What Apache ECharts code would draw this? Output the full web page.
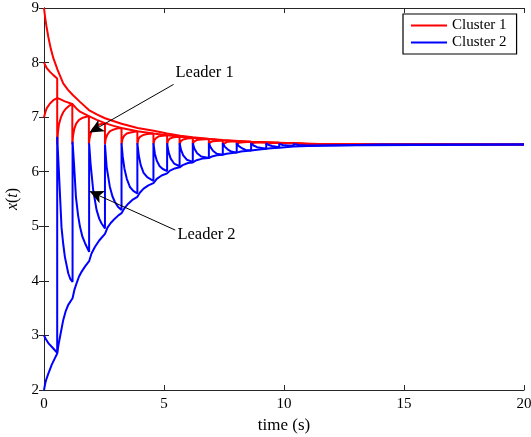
<!DOCTYPE html>
<html>
<head>
<meta charset="utf-8">
<script src="https://cdn.jsdelivr.net/npm/echarts@6/dist/echarts.min.js"></script>
<style>
html,body{margin:0;padding:0;background:#fff;}
#chart{width:531px;height:437px;}
</style>
</head>
<body>
<div id="chart"></div>
<script>
// ---- data ----
var xTicks = [0, 5, 10, 15, 20];
var yTicks = [2, 3, 4, 5, 6, 7, 8, 9];

// Cluster 1 (red)
var red1 = [[0,9.0],[0.05,8.82],[0.1,8.67],[0.18,8.47],[0.28,8.26],[0.39,8.08],[0.57,7.86],[0.8,7.62],[1.0,7.5],[1.19,7.41],[1.5,7.28],[1.87,7.13],[2.2,7.05],[2.54,6.98],[3.23,6.88],[3.9,6.80],[4.57,6.75],[5.13,6.70],[5.68,6.66],[6.2,6.63],[6.9,6.60],[7.46,6.58],[8.6,6.55],[9.8,6.53],[11.5,6.51],[14,6.5],[20,6.5]];
var red2 = [[0,7.0],[0.05,7.08],[0.11,7.16],[0.25,7.25],[0.39,7.31],[0.55,7.35],[0.67,7.33],[0.87,7.29],[1.18,7.24],[1.35,7.16],[1.5,7.1],[1.87,7.02],[2.2,6.95],[2.54,6.89],[2.9,6.84],[3.23,6.80],[3.89,6.74],[4.56,6.70],[5.13,6.67],[5.65,6.64],[6.2,6.62],[6.87,6.6],[7.45,6.57],[8.03,6.56],[8.63,6.55],[9.26,6.54],[9.8,6.53],[10.4,6.52],[11,6.51],[12.5,6.5],[20,6.5]];
var redLeader = [[0,8.0],[0.11,7.9],[0.25,7.83],[0.39,7.77],[0.55,7.71],
[0.55,6.5],[0.58,6.72],[0.62,6.86],[0.7,6.99],[0.8,7.09],[0.92,7.16],[1.05,7.21],[1.18,7.24],
[1.18,6.5],[1.21,6.66],[1.26,6.78],[1.34,6.88],[1.46,6.95],[1.62,6.99],[1.87,7.02],
[1.87,6.5],[1.9,6.62],[1.96,6.72],[2.05,6.79],[2.18,6.84],[2.34,6.87],[2.54,6.89],
[2.54,6.5],[2.57,6.6],[2.64,6.68],[2.74,6.74],[2.88,6.77],[3.03,6.79],[3.23,6.80],
[3.23,6.5],[3.27,6.6],[3.34,6.66],[3.45,6.7],[3.6,6.72],[3.89,6.74],
[3.89,6.5],[3.93,6.59],[4.0,6.64],[4.12,6.67],[4.3,6.69],[4.56,6.70],
[4.56,6.5],[4.6,6.58],[4.68,6.62],[4.8,6.65],[4.95,6.66],[5.13,6.67],
[5.13,6.5],[5.17,6.57],[5.25,6.61],[5.4,6.63],[5.65,6.64],
[5.65,6.5],[5.7,6.56],[5.8,6.59],[5.97,6.61],[6.2,6.62],
[6.2,6.5],[6.25,6.55],[6.36,6.58],[6.55,6.59],[6.87,6.6],
[6.87,6.5],[6.93,6.54],[7.05,6.56],[7.45,6.57],
[7.45,6.5],[7.52,6.53],[7.65,6.55],[8.03,6.56],
[8.03,6.5],[8.12,6.53],[8.3,6.54],[8.63,6.55],
[8.63,6.5],[8.75,6.53],[9.26,6.54],
[9.26,6.5],[9.4,6.52],[9.8,6.53],
[9.8,6.5],[10.4,6.52],[10.4,6.5],[11,6.51],[11,6.5],[20,6.5]];

// Cluster 2 (blue)
var blueLeader = [[0,3.0],[0.08,2.93],[0.18,2.86],[0.39,2.76],[0.55,2.68],
[0.55,6.64],[0.61,6.1],[0.67,5.54],[0.73,4.98],[0.8,4.68],[0.87,4.44],[1.01,4.14],[1.1,4.03],[1.19,3.98],
[1.19,6.55],[1.25,6.15],[1.33,5.54],[1.42,5.2],[1.5,4.99],[1.6,4.81],[1.71,4.69],[1.88,4.53],
[1.88,6.52],[1.94,6.15],[2.05,5.66],[2.19,5.30],[2.3,5.14],[2.4,5.05],[2.54,4.96],
[2.54,6.5],[2.61,6.09],[2.74,5.73],[2.85,5.55],[2.95,5.45],[3.08,5.36],[3.23,5.30],
[3.23,6.52],[3.28,6.28],[3.35,6.06],[3.45,5.87],[3.58,5.72],[3.72,5.65],[3.89,5.60],
[3.89,6.52],[3.95,6.3],[4.03,6.12],[4.15,5.98],[4.3,5.9],[4.56,5.83],
[4.56,6.52],[4.62,6.33],[4.7,6.2],[4.82,6.1],[4.95,6.05],[5.13,6.01],
[5.13,6.52],[5.19,6.36],[5.28,6.24],[5.42,6.15],[5.65,6.1],
[5.65,6.52],[5.71,6.4],[5.8,6.3],[5.95,6.22],[6.2,6.18],
[6.2,6.52],[6.27,6.42],[6.38,6.34],[6.55,6.28],[6.87,6.25],
[6.87,6.52],[6.95,6.44],[7.05,6.38],[7.2,6.33],[7.45,6.31],
[7.45,6.52],[7.53,6.46],[7.65,6.41],[7.8,6.37],[8.03,6.35],
[8.03,6.52],[8.12,6.47],[8.25,6.43],[8.4,6.4],[8.63,6.39],
[8.63,6.52],[8.73,6.48],[8.88,6.45],[9.26,6.42],
[9.26,6.52],[9.36,6.49],[9.5,6.47],[9.8,6.45],
[9.8,6.51],[9.95,6.49],[10.4,6.47],
[10.4,6.51],[10.6,6.49],[11,6.48],
[11,6.5],[20,6.5]];
var blueFollower = [[0,2.0],[0.05,2.12],[0.1,2.2],[0.18,2.3],[0.32,2.46],[0.45,2.58],[0.55,2.67],
[0.6,2.82],[0.67,2.98],[0.8,3.28],[0.9,3.44],[1.01,3.56],[1.19,3.68],
[1.27,3.84],[1.36,3.96],[1.46,4.08],[1.57,4.17],[1.72,4.27],[1.88,4.36],
[1.98,4.5],[2.12,4.62],[2.3,4.74],[2.54,4.86],
[2.65,4.98],[2.78,5.06],[2.95,5.14],[3.1,5.2],[3.23,5.24],
[3.35,5.33],[3.5,5.41],[3.7,5.49],[3.89,5.54],
[4.0,5.62],[4.15,5.69],[4.35,5.75],[4.56,5.79],
[4.7,5.87],[4.9,5.93],[5.13,5.97],
[5.25,6.02],[5.45,6.06],[5.65,6.08],
[5.78,6.12],[6.0,6.16],[6.2,6.17],
[6.35,6.21],[6.6,6.24],[6.87,6.25],
[7.0,6.28],[7.2,6.3],[7.45,6.31],
[7.6,6.33],[8.03,6.35],
[8.2,6.37],[8.63,6.39],
[8.8,6.4],[9.26,6.42],
[9.45,6.43],[9.8,6.44],
[10.4,6.46],[11,6.47],[12,6.48],[13,6.49],[14,6.5],[20,6.5]];

// annotations: [text anchor], [arrow start], [arrow tip]
var leader1Text = [5.48, 7.81];
var leader1Arrow = [[5.4, 7.6], [1.9, 6.72]];
var leader2Text = [5.56, 4.84];
var leader2Arrow = [[5.47, 4.93], [1.9, 5.64]];

var FONT = 'Liberation Serif';
var chart = echarts.init(document.getElementById('chart'), null, {renderer: 'canvas'});

function lineSeries(name, data, color, extra) {
  var s = {
    name: name, type: 'line', data: data, showSymbol: false, symbol: 'none',
    xAxisIndex: 0, yAxisIndex: 0,
    lineStyle: {color: color, width: 2}, itemStyle: {color: color},
    animation: false, silent: true, z: 2
  };
  if (extra) for (var k in extra) s[k] = extra[k];
  return s;
}

function axisCommon() {
  return {
    axisLine: {show: true, lineStyle: {color: '#262626', width: 1}},
    axisTick: {show: true, inside: true, length: 5, lineStyle: {color: '#262626'}},
    splitLine: {show: false}
  };
}

var option = {
  backgroundColor: '#fff',
  animation: false,
  grid: {left: 44, right: 7, top: 8, bottom: 47, containLabel: false, outerBoundsMode: 'none'},
  legend: {
    data: ['Cluster 1', 'Cluster 2'],
    orient: 'vertical', left: 403, top: 14,
    backgroundColor: '#fff', borderColor: '#000', borderWidth: 1.2,
    padding: [4, 10, 4, 8], itemGap: 2,
    itemWidth: 36, itemHeight: 2, icon: 'rect',
    textStyle: {fontFamily: FONT, fontSize: 15, color: '#000', padding: [0, 0, 0, 0]}
  },
  xAxis: [
    Object.assign(axisCommon(), {type: 'value', min: 0, max: 20, interval: 5, position: 'bottom',
      name: 'time (s)', nameLocation: 'middle', nameGap: 25,
      nameTextStyle: {fontFamily: FONT, fontSize: 17, color: '#000'},
      axisLabel: {fontFamily: FONT, fontSize: 15, color: '#000', margin: 7,
        formatter: function (v) { return xTicks.indexOf(v) >= 0 ? String(v) : ''; }}}),
    Object.assign(axisCommon(), {type: 'value', min: 0, max: 20, interval: 5, position: 'top',
      axisLabel: {show: false}})
  ],
  yAxis: [
    Object.assign(axisCommon(), {type: 'value', min: 2, max: 9, interval: 1, position: 'left',
      name: '{i|x}({i|t})', nameLocation: 'middle', nameGap: 22, nameRotate: 90,
      nameTextStyle: {fontFamily: FONT, fontSize: 16, color: '#000',
        rich: {i: {fontFamily: FONT, fontStyle: 'italic', fontSize: 16, color: '#000'}}},
      axisLabel: {fontFamily: FONT, fontSize: 15, color: '#000', margin: 5,
        formatter: function (v) { return yTicks.indexOf(v) >= 0 ? String(v) : ''; }}}),
    Object.assign(axisCommon(), {type: 'value', min: 2, max: 9, interval: 1, position: 'right',
      axisLabel: {show: false}})
  ],
  series: [
    lineSeries('Cluster 1', red1, '#ff0000', {
      markLine: {
        silent: true, animation: false, symbol: ['none', 'arrow'], symbolSize: [10, 14],
        label: {show: false},
        lineStyle: {color: '#000', width: 1, type: 'solid'},
        data: [
          [{coord: leader1Arrow[0]}, {coord: leader1Arrow[1]}],
          [{coord: leader2Arrow[0]}, {coord: leader2Arrow[1]}]
        ]
      },
      markPoint: {
        silent: true, animation: false, symbol: 'circle', symbolSize: 0,
        label: {show: true, position: 'right', distance: 0, color: '#000',
          fontFamily: FONT, fontSize: 16.5, formatter: '{b}'},
        data: [
          {name: 'Leader 1', coord: leader1Text},
          {name: 'Leader 2', coord: leader2Text}
        ]
      }
    }),
    lineSeries('Cluster 1', red2, '#ff0000'),
    lineSeries('Cluster 1', redLeader, '#ff0000'),
    lineSeries('Cluster 2', blueFollower, '#0000ff'),
    lineSeries('Cluster 2', blueLeader, '#0000ff')
  ]
};
chart.setOption(option);
</script>
</body>
</html>
